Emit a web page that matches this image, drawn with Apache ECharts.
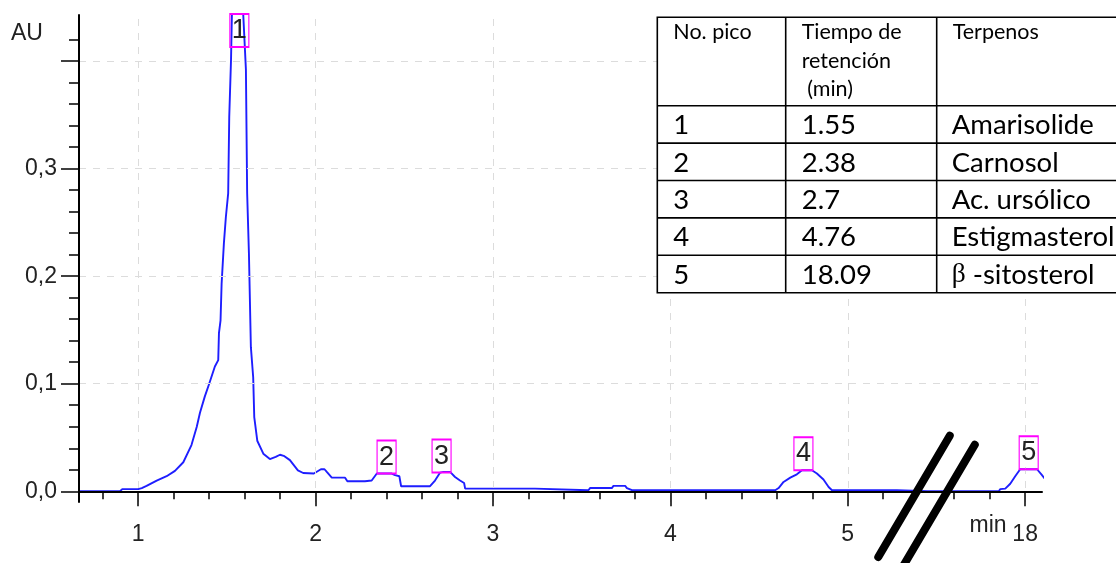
<!DOCTYPE html>
<html>
<head>
<meta charset="utf-8">
<script src="https://cdn.jsdelivr.net/npm/echarts@6/dist/echarts.min.js"></script>
<style>
html,body{margin:0;padding:0;background:#fff;}
#chart{width:1116px;height:563px;}
</style>
</head>
<body>
<div id="chart"></div>
<script>
// ---------- DATA ----------
// retention time (min) of each sampled point of the trace
const timeMin = [
  0.666, 0.897, 0.91, 1.00, 1.02, 1.047, 1.104, 1.16, 1.207, 1.254, 1.30, 1.33, 1.348, 1.375,
  1.40, 1.432, 1.451, 1.455, 1.464, 1.47, 1.483, 1.494, 1.507, 1.513, 1.523, 1.528,
  1.56,
  1.592, 1.607, 1.614, 1.624, 1.635, 1.648, 1.654, 1.671, 1.705, 1.742, 1.775, 1.799, 1.82,
  1.855, 1.90, 1.93, 1.99, 2.03, 2.05, 2.063, 2.091, 2.166, 2.179, 2.278, 2.288, 2.316,
  2.345, 2.429, 2.448, 2.472, 2.482, 2.645, 2.673, 2.702, 2.72, 2.758, 2.786, 2.814, 2.837,
  2.843, 3.237, 3.247, 3.538, 3.547, 3.67, 3.679, 3.745, 3.755, 3.783, 4.591, 4.61, 4.638,
  4.676, 4.713, 4.742, 4.798, 4.826, 4.863, 4.892, 4.911, 5.277, 5.286, 5.45,
  17.50, 17.851, 17.86, 17.888, 17.916, 17.944, 17.972, 18.067, 18.095, 18.124, 18.152, 18.166
];
// absorbance (AU); null = apex of peak 1 is off scale
const absAU = [
  0, 0, 0.002, 0.002, 0.003, 0.005, 0.010, 0.014, 0.019, 0.027, 0.043, 0.060, 0.073, 0.088,
  0.100, 0.116, 0.122, 0.147, 0.159, 0.193, 0.231, 0.255, 0.277, 0.348, 0.401, 0.443,
  null,
  0.443, 0.392, 0.277, 0.221, 0.134, 0.106, 0.069, 0.047, 0.035, 0.030, 0.032, 0.034, 0.033,
  0.029, 0.0195, 0.017, 0.0165, 0.0205, 0.0205, 0.018, 0.0127, 0.0127, 0.0093, 0.0093, 0.0077, 0.010,
  0.0165, 0.0165, 0.015, 0.014, 0.0047, 0.0047, 0.010, 0.0174, 0.018, 0.018, 0.0133, 0.010, 0.0077,
  0.0025, 0.0025, 0.001, 0.001, 0.003, 0.003, 0.005, 0.005, 0.003, 0.001, 0.001, 0.003, 0.0087,
  0.0127, 0.0158, 0.0195, 0.0195, 0.0165, 0.011, 0.004, 0.001, 0.001, 0, 0,
  0, 0, 0.002, 0.0025, 0.007, 0.014, 0.0205, 0.0205, 0.015, 0.0087, 0.0025, 0
];
// peak annotation boxes
const peakLabels   = ['1', '2', '3', '4', '5'];
const peakMarkTime = [1.57, 2.40, 2.71, 4.75, 18.02];
const peakMarkAU   = [0.413, 0.0165, 0.0174, 0.0195, 0.0205];
// axis ticks
const xMajorTicks = [1, 2, 3, 4, 5, 18];
const xTickLabels = ['1', '2', '3', '4', '5', '18'];
const xMinorTicks = [0.8, 1.2, 1.4, 1.6, 1.8, 2.2, 2.4, 2.6, 2.8, 3.2, 3.4, 3.6, 3.8,
                     4.2, 4.4, 4.6, 4.8, 5.2, 17.6, 17.8];
const yMajorTicks = [0, 0.1, 0.2, 0.3, 0.4];
const yTickLabels = ['0,0', '0,1', '0,2', '0,3'];
const yMinorTicks = [0.02, 0.04, 0.06, 0.08, 0.12, 0.14, 0.16, 0.18, 0.22, 0.24, 0.26, 0.28,
                     0.32, 0.34, 0.36, 0.38, 0.42];
// table
const tableHeaders   = ['No. pico', 'Tiempo de\nretención\n (min)', 'Terpenos'];
const peakNumbers    = ['1', '2', '3', '4', '5'];
const retentionTimes = ['1.55', '2.38', '2.7', '4.76', '18.09'];
const terpenes       = ['Amarisolide', 'Carnosol', 'Ac. ursólico', 'Estigmasterol', '{g|β} -sitosterol'];

// ---------- axis break (5.x min ... 17.x min) ----------
const BREAK_AT = 5.476, BREAK_SHIFT = 12;
const toAxis = t => (t > BREAK_AT + 1 ? t - BREAK_SHIFT : t);

const AX_FONT = 'Liberation Sans';
const seriesData = timeMin.map((t, i) => [toAxis(t), absAU[i]]);
const xMajorAxis = xMajorTicks.map(toAxis);
const xMinorAxis = xMinorTicks.map(toAxis);

const chart = echarts.init(document.getElementById('chart'));
const option = {
  animation: false,
  backgroundColor: '#fff',
  grid: { left: 79, right: 74, top: 15, bottom: 61, containLabel: false, outerBoundsMode: 'none' },
  xAxis: [
    {
      type: 'value', position: 'bottom', min: 0.666, max: 6.095, z: 5,
      axisLine: { show: true, lineStyle: { color: '#000', width: 2 } },
      axisTick: { show: true, customValues: xMajorAxis, length: 15, lineStyle: { color: '#000', width: 1.5 } },
      axisLabel: {
        show: true, customValues: xMajorAxis, margin: 21,
        fontFamily: AX_FONT, fontSize: 23, color: '#222',
        formatter: v => { const i = xMajorAxis.findIndex(m => Math.abs(m - v) < 1e-6); return i >= 0 ? xTickLabels[i] : ''; }
      },
      splitLine: { show: false }
    },
    {
      type: 'value', position: 'bottom', min: 0.666, max: 6.095,
      axisLine: { show: false },
      axisTick: { show: true, customValues: xMinorAxis, length: 8, lineStyle: { color: '#000', width: 1.5 } },
      axisLabel: { show: false },
      splitLine: { show: false }
    }
  ],
  yAxis: [
    {
      type: 'value', position: 'left', min: -0.00995, max: 0.4428, z: 5,
      axisLine: { show: true, lineStyle: { color: '#000', width: 2 } },
      axisTick: { show: true, customValues: yMajorTicks, length: 18, lineStyle: { color: '#000', width: 1.5 } },
      axisLabel: {
        show: true, customValues: yMajorTicks.slice(0, 4), margin: 22,
        fontFamily: AX_FONT, fontSize: 23, color: '#222',
        formatter: v => { const i = yMajorTicks.findIndex(m => Math.abs(m - v) < 1e-6); return i >= 0 && i < yTickLabels.length ? yTickLabels[i] : ''; }
      },
      splitLine: { show: false }
    },
    {
      type: 'value', position: 'left', min: -0.00995, max: 0.4428,
      axisLine: { show: false },
      axisTick: { show: true, customValues: yMinorTicks, length: 10, lineStyle: { color: '#000', width: 1.5 } },
      axisLabel: { show: false },
      splitLine: { show: false }
    }
  ],
  series: [
    {
      // background grid (dashed), drawn beneath the trace
      type: 'line', xAxisIndex: 0, yAxisIndex: 0, z: 1, data: [], silent: true,
      markLine: {
        silent: true, symbol: 'none', label: { show: false },
        lineStyle: { color: '#dcdcdc', type: [7, 7], width: 1 },
        data: xMajorAxis.map(x => ({ xAxis: x })).concat(yMajorTicks.map(y => ({ yAxis: y })))
      }
    },
    {
      type: 'line', xAxisIndex: 0, yAxisIndex: 0, z: 3,
      data: seriesData, showSymbol: false, symbol: 'none', clip: false, connectNulls: false,
      lineStyle: { color: '#1e1eff', width: 1.9 },
      markPoint: {
        silent: true, symbol: 'rect', symbolSize: [19, 33], symbolOffset: [0, '-50%'],
        itemStyle: { color: 'rgba(255,255,255,0)', borderColor: '#ff00ff', borderWidth: 1.5 },
        label: { show: true, position: 'inside', fontFamily: AX_FONT, fontSize: 27, color: '#222', formatter: p => p.name },
        data: peakLabels.map((n, i) => ({ name: n, coord: [toAxis(peakMarkTime[i]), peakMarkAU[i]] }))
      }
    }
  ]
};
chart.setOption(option);

// ---------- decorations: axis labels, break marks, table ----------
const px = (x, y) => chart.convertToPixel({ gridIndex: 0 }, [x, y]);
const breakMarks = [[5.575, 0.0516, 5.172, -0.0611], [5.716, 0.0433, 5.298, -0.0735]];
const g = [];
g.push({ type: 'text', z: 100, style: { x: 11, y: 34, text: 'AU', align: 'left', verticalAlign: 'middle', font: '23px "Liberation Sans"', fill: '#222' } });
g.push({ type: 'text', z: 100, style: { x: 988, y: 526, text: 'min', align: 'center', verticalAlign: 'middle', font: '23px "Liberation Sans"', fill: '#222' } });
breakMarks.forEach(b => {
  const p1 = px(b[0], b[1]), p2 = px(b[2], b[3]);
  g.push({ type: 'line', z: 100, shape: { x1: p1[0], y1: p1[1], x2: p2[0], y2: p2[1] }, style: { stroke: '#000', lineWidth: 8, lineCap: 'round' } });
});
// table
const TL = 657.3, TT = 17.3, TR = 1130;
const colX = [TL, 785.7, 936.7];
const headH = 88.4, rowH = 37.4;
const rowsY = [TT, TT + headH];
for (let i = 1; i <= peakNumbers.length; i++) rowsY.push(TT + headH + i * rowH);
const TB = rowsY[rowsY.length - 1];
const tStroke = { stroke: '#000', lineWidth: 1.6 };
g.push({ type: 'rect', z: 90, shape: { x: TL, y: TT, width: TR - TL, height: TB - TT }, style: Object.assign({ fill: '#fff' }, tStroke) });
rowsY.slice(1, -1).forEach(y => g.push({ type: 'line', z: 91, shape: { x1: TL, y1: y, x2: TR, y2: y }, style: tStroke }));
colX.slice(1).forEach(x => g.push({ type: 'line', z: 91, shape: { x1: x, y1: TT, x2: x, y2: TB }, style: tStroke }));
const TFONT = 'Lato';
tableHeaders.forEach((h, c) => {
  g.push({ type: 'text', z: 92, style: { x: colX[c] + 16, y: TT + 1, text: h, align: 'left', verticalAlign: 'top',
    fontFamily: TFONT, fontSize: 21.5, lineHeight: 28.3, fill: '#000' } });
});
const cols = [peakNumbers, retentionTimes, terpenes];
cols.forEach((arr, c) => {
  arr.forEach((txt, r) => {
    g.push({ type: 'text', z: 92, style: { x: colX[c] + (c === 2 ? 15 : 16), y: rowsY[r + 1] + rowH / 2 + 1, text: txt,
      align: 'left', verticalAlign: 'middle', fontFamily: TFONT, fontSize: 27.5, fill: '#000',
      rich: { g: { fontFamily: 'Liberation Serif', fontSize: 27.5, fill: '#000' } } } });
  });
});
chart.setOption({ graphic: g });
</script>
</body>
</html>
